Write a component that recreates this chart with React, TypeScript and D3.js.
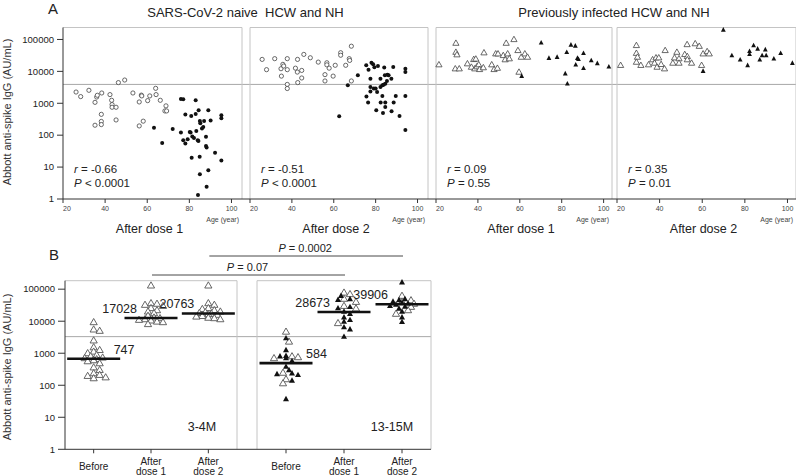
import React from "react";
import * as d3 from "d3";

// ---------- Panel A data: [age (year), Abbott anti-spike IgG (AU/mL)] ----------
const naiveD1Open: [number, number][] = [
  [26.2, 2250], [28.4, 1620], [32.3, 2550], [35.2, 1070], [36.0, 1570], [36.3, 1780], [38.4, 2100],
  [38.2, 450], [38.2, 270], [38.2, 215], [35.2, 205], [42.3, 1870], [43.1, 1240], [43.3, 910],
  [43.3, 750], [45.2, 750], [45.2, 300], [46.3, 4450], [49.3, 5350], [53.2, 2100], [56.2, 1100],
  [57.2, 1800], [57.4, 1700], [58.1, 275], [56.2, 195], [60.2, 1210], [61.2, 1700], [64.0, 2940],
  [64.2, 1870], [66.2, 1240], [68.9, 830], [68.4, 575], [69.2, 575],
];
const naiveD1Filled: [number, number][] = [
  [63.2, 170], [67.1, 57], [72.1, 155], [76.0, 1350], [77.1, 1330], [76.0, 121], [78.1, 445],
  [77.1, 70], [78.1, 55], [79.2, 75], [80.2, 126], [80.6, 121], [80.9, 400], [81.4, 91], [81.1, 19.5],
  [82.2, 81], [83.0, 1240], [83.0, 465], [83.3, 135], [84.0, 70], [84.3, 66], [84.4, 600], [85.0, 280],
  [85.2, 235], [84.9, 21], [85.0, 6], [84.1, 1.33], [86.0, 162], [86.6, 182], [87.0, 280], [87.9, 89],
  [87.9, 46], [89.0, 600], [89.0, 7.9], [88.2, 2.4], [90.1, 288], [88.2, 41], [92.2, 28], [95.2, 420],
  [95.2, 340], [95.2, 16],
];
const naiveD2Open: [number, number][] = [
  [25.8, 23700], [27.9, 11300], [31.8, 25000], [34.8, 12100], [35.7, 16600], [36.1, 14700], [35.0, 7100],
  [37.8, 25000], [37.8, 11300], [37.8, 3900], [37.8, 2900], [41.7, 12600], [42.7, 23700], [42.6, 9500],
  [42.8, 4450], [44.7, 10700], [44.7, 6200], [45.7, 34000], [48.8, 26700], [52.6, 19500], [56.7, 18600],
  [56.7, 16000], [57.8, 12600], [55.8, 7900], [55.8, 5000], [59.7, 7100], [60.7, 15500], [63.3, 38400],
  [63.3, 32000], [65.7, 15500], [67.4, 25000], [67.6, 22000], [68.4, 61500], [68.4, 5000],
];
const naiveD2Filled: [number, number][] = [
  [62.6, 390], [66.7, 3650], [71.5, 7500], [75.5, 15500], [76.6, 11300], [78.0, 18600], [78.8, 16600],
  [79.4, 13400], [81.1, 14700], [84.1, 13100], [88.4, 13600], [75.6, 1620], [76.4, 1050], [77.5, 5900],
  [77.5, 3230], [77.5, 2340], [79.1, 2900], [80.0, 2900], [80.7, 2240], [82.3, 3230], [82.3, 5900],
  [83.2, 3650], [83.8, 3800], [84.4, 7500], [84.6, 4100], [85.4, 5000], [86.2, 7500], [87.5, 5900],
  [85.6, 7800], [83.2, 1700], [82.4, 1050], [84.6, 1050], [84.6, 760], [80.3, 600], [83.5, 500],
  [87.6, 560], [88.6, 1050], [89.6, 1700], [91.4, 400], [94.2, 12100], [94.2, 9500], [94.2, 1700],
  [94.2, 146],
];
const infD1Open: [number, number][] = [
  [21.4, 16200], [29.5, 76600], [29.5, 40000], [30.0, 33300], [29.2, 12100], [31.1, 12100], [35.0, 17400],
  [36.9, 13600], [38.0, 23700], [39.0, 24500], [38.5, 12100], [39.5, 14000], [40.4, 16200], [40.8, 11500],
  [42.9, 38400], [42.6, 13100], [46.6, 16200], [47.7, 11500], [49.3, 12600], [48.5, 35600], [49.6, 35600],
  [52.1, 31600], [53.0, 23300], [54.2, 35600], [55.0, 25000], [53.5, 76600], [57.2, 100000], [59.1, 45300],
  [60.7, 28000], [62.4, 35600], [63.7, 28000], [59.6, 9500],
];
const infD1Filled: [number, number][] = [
  [60.9, 7100], [70.2, 79000], [73.9, 26000], [77.8, 28000], [82.4, 40000], [84.4, 68000], [86.5, 63000],
  [90.4, 37000], [87.5, 26000], [88.0, 24000], [86.7, 16200], [90.4, 12600], [94.1, 22000], [97.0, 17800],
  [102.5, 14000], [81.7, 8500], [82.7, 4100],
];
const infD2Open: [number, number][] = [
  [21.7, 15500], [29.1, 65000], [29.1, 37000], [29.6, 28000], [29.1, 19500], [31.2, 15500], [34.8, 16200],
  [36.7, 23300], [37.6, 18200], [38.3, 26700], [39.6, 26700], [38.8, 13600], [40.7, 16600], [42.3, 12100],
  [42.6, 45300], [46.2, 18200], [47.0, 26700], [48.1, 40000], [49.1, 25000], [49.1, 18200], [51.8, 34000],
  [53.0, 29400], [53.0, 23300], [52.9, 69500], [55.0, 18200], [56.7, 74000], [58.6, 61500], [59.7, 15500],
  [60.4, 35600], [62.3, 42000], [63.3, 35600],
];
const infD2Filled: [number, number][] = [
  [60.4, 10200], [69.9, 200000], [73.9, 31600], [77.8, 23300], [81.3, 15500], [82.2, 43000], [82.2, 34600],
  [84.1, 65000], [86.0, 51000], [87.0, 23300], [88.1, 31600], [89.6, 48000], [90.0, 31600], [93.6, 25000],
  [96.8, 37000], [102.3, 18200],
];

const yTicks = [1, 10, 100, 1000, 10000, 100000];
const ageTicks = [20, 40, 60, 80, 100];
const groupTitles = ["SARS-CoV-2 naive  HCW and NH", "Previously infected HCW and NH"];
const doseLabels = ["After dose 1", "After dose 2", "After dose 1", "After dose 2"];
const rValues = ["-0.66", "-0.51", "0.09", "0.35"];
const pValues = ["< 0.0001", "< 0.0001", "= 0.55", "= 0.01"];
const thresholdA = 3900;

// ---------- Panel B data ----------
const bCategories = ["Before", "After dose 1", "After dose 2"];
const bPeriods = ["3-4M", "13-15M"];
const earlyBefore = [9300, 5500, 5000, 2500, 1530, 1260, 1120, 1000, 880, 800, 730, 700, 650, 620, 600, 560, 485, 360, 300, 236, 210, 195, 176, 165];
const earlyDose1 = [130000, 36500, 35000, 32400, 30000, 25600, 22000, 20000, 17800, 14700, 13000, 12400, 11500, 11000, 10500, 9700, 9300, 8100];
const earlyDose2 = [130000, 36500, 32400, 25600, 24000, 22000, 20000, 19000, 18000, 17000, 16500, 15800, 14500, 13900, 12800, 12400, 11500];
const lateBeforeOpen = [4700, 2300, 800, 750, 700, 245, 154, 115];
const lateBeforeFilled = [2950, 1260, 830, 800, 700, 575, 380, 300, 237, 225, 210, 140, 37];
const lateDose1Open = [78000, 70000, 50000, 40000, 30000, 25000, 8700];
const lateDose1Filled = [62000, 49000, 46500, 28000, 25600, 20000, 17000, 13300, 11000, 9700, 6500, 5600, 3300];
const lateDose2Open = [62000, 45000, 40000, 35000, 28000, 22000, 17000];
const lateDose2Filled = [165000, 49000, 46000, 41000, 38000, 36000, 33000, 30000, 28700, 25000, 20000, 13300, 9500];
const bMedianLines = [670, 12600, 17500, 490, 19300, 34000];
const bMedianLabels = ["747", "17028", "20763", "584", "28673", "39906"];
const thresholdB = 3300;
const pBrackets = [
  { label: "0.0002", from: "3-4M|After dose 2", to: "13-15M|After dose 2" },
  { label: "0.07", from: "3-4M|After dose 1", to: "13-15M|After dose 1" },
];

const FONT = "'Liberation Sans', Arial, Helvetica, sans-serif";
const GRID = "#c4c4c4";
const AX = "#333";

function tri(x: number, y: number, w: number, h: number) {
  return `M${x},${y - h * 0.6}L${x + w / 2},${y + h * 0.4}L${x - w / 2},${y + h * 0.4}Z`;
}

type SP = { x: number; y: number; filled: boolean };
function swarm(items: { v: number; filled: boolean }[], y: (v: number) => number, cx: number): SP[] {
  const sorted = items.map((d) => ({ ...d, py: y(d.v) })).sort((a, b) => a.py - b.py);
  const placed: SP[] = [];
  const step = 3;
  const minD = 4.2;
  const maxOff = 12;
  for (const p of sorted) {
    let best = 0;
    let found = false;
    for (let k = 0; k <= 4 && !found; k++) {
      const offs = k === 0 ? [0] : [k * step, -k * step];
      for (const o of offs) {
        if (Math.abs(o) > maxOff) continue;
        const ok = placed.every((q) => Math.hypot(q.x - (cx + o), q.y - p.py) >= minD);
        if (ok) {
          best = o;
          found = true;
          break;
        }
      }
    }
    placed.push({ x: cx + best, y: p.py, filled: p.filled });
  }
  return placed;
}

export default function App() {
  // ----- Panel A -----
  const aTop = 27.5;
  const aBottom = 199;
  const yA = d3.scaleLog().domain([1, 237000]).range([aBottom, aTop]);
  const panelsA = [
    { x0: 63, x1: 242, dmax: 105, open: naiveD1Open, filled: naiveD1Filled, shape: "circle" },
    { x0: 250, x1: 428, dmax: 105, open: naiveD2Open, filled: naiveD2Filled, shape: "circle" },
    { x0: 436, x1: 612, dmax: 104, open: infD1Open, filled: infD1Filled, shape: "tri" },
    { x0: 617, x1: 796, dmax: 104, open: infD2Open, filled: infD2Filled, shape: "tri" },
  ];

  // ----- Panel B -----
  const bTop = 280.7;
  const bBottom = 449.3;
  const yB = d3.scaleLog().domain([1, Math.pow(10, 5.265)]).range([bBottom, bTop]);
  const boxesB = [
    { x0: 65, x1: 237 },
    { x0: 257, x1: 431 },
  ];
  const xB = boxesB.map((b) => d3.scalePoint<string>().domain(bCategories).range([b.x0, b.x1]).padding(0.5));
  const bGroupsData = [
    [
      earlyBefore.map((v) => ({ v, filled: false })),
      earlyDose1.map((v) => ({ v, filled: false })),
      earlyDose2.map((v) => ({ v, filled: false })),
    ],
    [
      [...lateBeforeOpen.map((v) => ({ v, filled: false })), ...lateBeforeFilled.map((v) => ({ v, filled: true }))],
      [...lateDose1Open.map((v) => ({ v, filled: false })), ...lateDose1Filled.map((v) => ({ v, filled: true }))],
      [...lateDose2Open.map((v) => ({ v, filled: false })), ...lateDose2Filled.map((v) => ({ v, filled: true }))],
    ],
  ];
  const catX = (key: string) => {
    const [per, cat] = key.split("|");
    const i = bPeriods.indexOf(per);
    return xB[i](cat) as number;
  };

  return (
    <svg
      width={796}
      height={476}
      style={{ position: "absolute", left: 0, top: 0, background: "#fff" }}
      fontFamily={FONT}
    >
      <rect x={0} y={0} width={796} height={476} fill="#fff" />
      {/* ================= PANEL A ================= */}
      <text x={48} y={14} fontSize={15} fill="#222">A</text>
      <text x={245.5} y={17} fontSize={13} textAnchor="middle" fill="#222" style={{ whiteSpace: "pre" }}>
        {groupTitles[0]}
      </text>
      <text x={614} y={17} fontSize={13} textAnchor="middle" fill="#222">
        {groupTitles[1]}
      </text>
      <text transform={`translate(10.5,112) rotate(-90)`} fontSize={11} textAnchor="middle" fill="#333">
        Abbott anti-spike IgG (AU/mL)
      </text>
      <line x1={63} x2={796} y1={yA(thresholdA)} y2={yA(thresholdA)} stroke="#a8a8a8" strokeWidth={1} />
      {panelsA.map((p, i) => {
        const x = d3.scaleLinear().domain([20, p.dmax]).range([p.x0, p.x1]);
        return (
          <g key={i}>
            <line x1={p.x0} x2={p.x1} y1={aTop} y2={aTop} stroke={GRID} />
            <line x1={p.x1} x2={p.x1} y1={aTop} y2={aBottom} stroke={GRID} />
            {i > 0 && <line x1={p.x0} x2={p.x0} y1={aTop} y2={aBottom} stroke={GRID} />}
            {p.open.map(([a, v], j) =>
              p.shape === "circle" ? (
                <circle key={"o" + j} cx={x(a)} cy={yA(v)} r={2.1} fill="#fff" stroke="#444" strokeWidth={0.8} />
              ) : (
                <path key={"o" + j} d={tri(x(a), yA(v), 6.2, 5.4)} fill="#fff" stroke="#444" strokeWidth={0.8} />
              )
            )}
            {p.filled.map(([a, v], j) =>
              p.shape === "circle" ? (
                <circle key={"f" + j} cx={x(a)} cy={yA(v)} r={2.0} fill="#111" />
              ) : (
                <path key={"f" + j} d={tri(x(a), yA(v), 4.8, 4.6)} fill="#111" />
              )
            )}
            {ageTicks.map((t, k) => (
              <g key={t}>
                <line x1={x(t)} x2={x(t)} y1={aBottom} y2={aBottom + 4} stroke={AX} />
                <text x={x(t) + (k === 0 ? 4 : 0)} y={211} fontSize={7} textAnchor="middle" fill="#444">
                  {t}
                </text>
              </g>
            ))}
            <text x={p.x1 - 3} y={222} fontSize={7} textAnchor="end" fill="#444">
              Age (year)
            </text>
            <text x={(p.x0 + p.x1) / 2 - 3} y={233} fontSize={12.5} textAnchor="middle" fill="#222">
              {doseLabels[i]}
            </text>
            <text x={p.x0 + 11} y={173} fontSize={11.5} fill="#222">
              <tspan fontStyle="italic">r</tspan> = {rValues[i]}
            </text>
            <text x={p.x0 + 11} y={187} fontSize={11.5} fill="#222">
              <tspan fontStyle="italic">P</tspan> {pValues[i]}
            </text>
          </g>
        );
      })}
      <line x1={63} x2={63} y1={aTop} y2={aBottom} stroke={AX} />
      <line x1={63} x2={796} y1={aBottom} y2={aBottom} stroke={AX} />
      {yTicks.map((t) => (
        <g key={t}>
          <line x1={57} x2={63} y1={yA(t)} y2={yA(t)} stroke={AX} />
          <text x={54} y={yA(t) + 3.3} fontSize={9.5} textAnchor="end" fill="#222">
            {String(t)}
          </text>
        </g>
      ))}

      {/* ================= PANEL B ================= */}
      <text x={49} y={260} fontSize={15} fill="#222">B</text>
      <text transform={`translate(10.5,367) rotate(-90)`} fontSize={11} textAnchor="middle" fill="#333">
        Abbott anti-spike IgG (AU/mL)
      </text>
      {pBrackets.map((b, i) => {
        const x1 = catX(b.from);
        const x2 = catX(b.to);
        const yy = i === 0 ? 256 : 275;
        return (
          <g key={i}>
            <line x1={x1 + 1} x2={x2 + 1} y1={yy} y2={yy} stroke="#333" strokeWidth={0.9} />
            <text x={(x1 + x2) / 2} y={yy - 4} fontSize={11} textAnchor="middle" fill="#222">
              <tspan fontStyle="italic">P</tspan> = {b.label}
            </text>
          </g>
        );
      })}
      <line x1={65} x2={431} y1={yB(thresholdB)} y2={yB(thresholdB)} stroke="#a8a8a8" strokeWidth={1} />
      {boxesB.map((b, i) => (
        <g key={i}>
          <line x1={b.x0} x2={b.x1} y1={bTop} y2={bTop} stroke={GRID} />
          <line x1={b.x1} x2={b.x1} y1={bTop} y2={bBottom} stroke={GRID} />
          {i > 0 && <line x1={b.x0} x2={b.x0} y1={bTop} y2={bBottom} stroke={GRID} />}
          {bGroupsData[i].map((items, c) => {
            const cx = xB[i](bCategories[c]) as number;
            const pts = swarm(items, (v) => yB(v), cx);
            const mIdx = i * 3 + c;
            const my = yB(bMedianLines[mIdx]);
            const isBefore = c === 0;
            return (
              <g key={c}>
                {pts.filter((p) => !p.filled).map((p, j) => (
                  <path key={"o" + j} d={tri(p.x, p.y, 7.2, 6.2)} fill="#fff" stroke="#555" strokeWidth={0.9} />
                ))}
                {pts.filter((p) => p.filled).map((p, j) => (
                  <path key={"f" + j} d={tri(p.x, p.y, 6, 5.4)} fill="#111" />
                ))}
                <line x1={cx - 26.5} x2={cx + 26.5} y1={my} y2={my} stroke="#111" strokeWidth={2.6} />
                <text
                  x={isBefore ? cx + 20 : cx - 14}
                  y={my - 5}
                  fontSize={12.5}
                  textAnchor={isBefore ? "start" : "end"}
                  fill="#222"
                >
                  {bMedianLabels[mIdx]}
                </text>
              </g>
            );
          })}
          <text x={b.x1 - (i === 0 ? 35 : 39)} y={431} fontSize={12.5} textAnchor="middle" fill="#222">
            {bPeriods[i]}
          </text>
          {bCategories.map((cat) => {
            const cx = xB[i](cat) as number;
            const parts = cat === "Before" ? ["Before"] : ["After", cat.replace("After ", "")];
            return (
              <g key={cat}>
                <line x1={cx} x2={cx} y1={bBottom} y2={bBottom + 4} stroke={AX} />
                {parts.length === 1 ? (
                  <text x={cx} y={470} fontSize={10} textAnchor="middle" fill="#222">{parts[0]}</text>
                ) : (
                  <text x={cx} y={465} fontSize={10} textAnchor="middle" fill="#222">
                    <tspan x={cx}>{parts[0]}</tspan>
                    <tspan x={cx} dy={9.5}>{parts[1]}</tspan>
                  </text>
                )}
              </g>
            );
          })}
        </g>
      ))}
      <line x1={65} x2={65} y1={bTop} y2={bBottom} stroke={AX} />
      <line x1={65} x2={431} y1={bBottom} y2={bBottom} stroke={AX} />
      {yTicks.map((t) => (
        <g key={t}>
          <line x1={58} x2={65} y1={yB(t)} y2={yB(t)} stroke={AX} />
          <text x={55} y={yB(t) + 3.3} fontSize={9.5} textAnchor="end" fill="#222">
            {String(t)}
          </text>
        </g>
      ))}
    </svg>
  );
}
